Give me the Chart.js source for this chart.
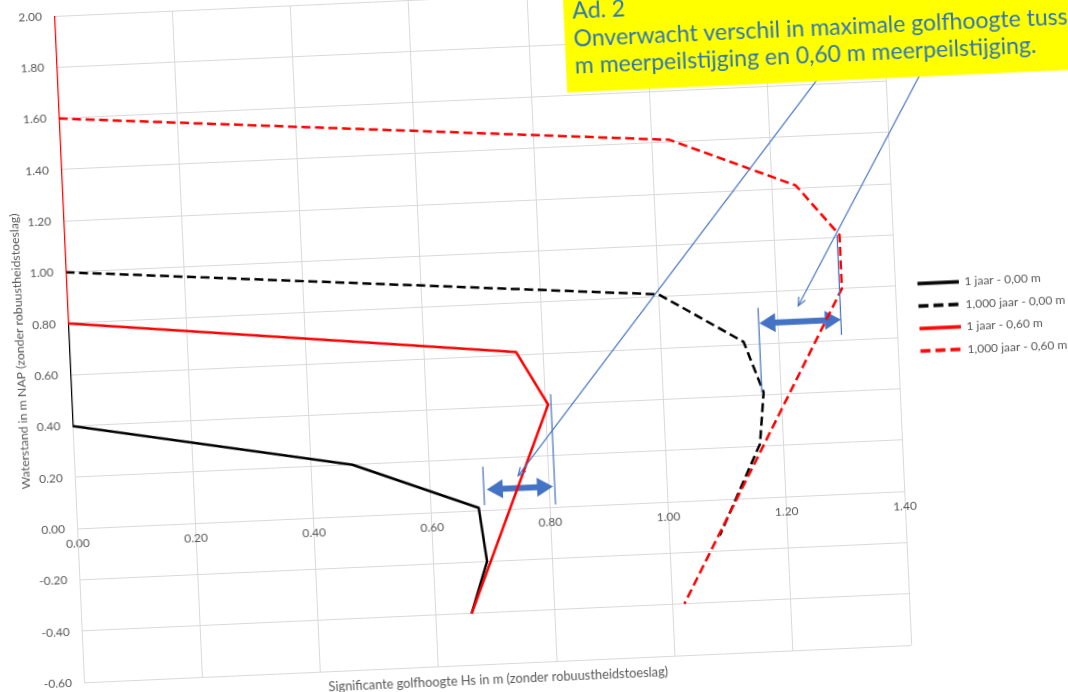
<!DOCTYPE html>
<html lang="nl">
<head>
<meta charset="utf-8">
<title>Golfhoogte bij waterstand</title>
<script src="https://cdn.jsdelivr.net/npm/chart.js@4.4.1/dist/chart.umd.min.js"></script>
<style>
  html, body { margin: 0; padding: 0; width: 1068px; height: 692px; overflow: hidden; background: #ffffff; }
  #grafiek { position: absolute; left: 0; top: 0; filter: blur(0.3px); }
</style>
</head>
<body>
<canvas id="grafiek" width="1120" height="800"></canvas>
<script>
// Significante golfhoogte Hs (m) per waterstand (m NAP), per reeks
const golfhoogte1jaar000    = [0.00, 0.00, 0.47, 0.68, 0.69, 0.66];
const waterstand1jaar000    = [0.80, 0.40, 0.20, 0.01, -0.20, -0.40];
const golfhoogte1000jaar000 = [0.00, 1.00, 1.14, 1.17, 1.16, 1.085];
const waterstand1000jaar000 = [1.00, 0.81, 0.61, 0.41, 0.21, -0.14];
const golfhoogte1jaar060    = [0.00, 0.00, 0.755, 0.805, 0.66];
const waterstand1jaar060    = [2.00, 0.80, 0.61, 0.40, -0.40];
const golfhoogte1000jaar060 = [0.00, 1.03, 1.24, 1.31, 1.31, 1.02];
const waterstand1000jaar060 = [1.60, 1.41, 1.21, 1.01, 0.80, -0.40];

const reeksNamen = ['1 jaar - 0,00 m', '1,000 jaar - 0,00 m', '1 jaar - 0,60 m', '1,000 jaar - 0,60 m'];

// Aslabels
const golfhoogteTicks = [0.00, 0.20, 0.40, 0.60, 0.80, 1.00, 1.20, 1.40];
const waterstandTicks = [-0.60, -0.40, -0.20, 0.00, 0.20, 0.40, 0.60, 0.80, 1.00, 1.20, 1.40, 1.60, 1.80, 2.00];

// Toelichting: verschil in maximale golfhoogte (Hs links, Hs rechts, waterstand)
const verschilPijlen = [[0.695, 0.807, 0.08], [1.168, 1.306, 0.68]];
// Hulplijnen bij de pijlen (Hs, waterstand onder, waterstand boven)
const hulplijnen = [[0.69, 0.02, 0.17], [0.81, 0.01, 0.44], [1.167, 0.41, 0.74], [1.306, 0.62, 1.01]];
// Verwijslijnen vanaf het tekstvak (Hs van, waterstand van, Hs naar, waterstand naar)
const verwijzingen = [[1.2955, 1.65, 0.749, 0.128], [1.466, 1.65, 1.235, 0.741]];
// Tekstvak (in askoordinaten) en de regels erin
const tekstvak = { links: 0.861, onder: 1.612, rechts: 2.3, boven: 2.26, tekstX: 0.876 };
const tekstRegelsY = [1.899, 1.791, 1.686];
const tekstRegels = ['Ad. 2', 'Onverwacht verschil in maximale golfhoogte tussen 0,00', 'm meerpeilstijging en 0,60 m meerpeilstijging.'];

const punten = (xs, ys) => xs.map((x, i) => ({ x: x, y: ys[i] }));

const ZWART = '#000000', ROOD = '#ff0000', BLAUW = '#4472c4', GRIJS = '#595959', RASTER = '#d9d9d9';
const STREEP = [9, 4.5];

// rode reeksen worden boven de zwarte getekend (lagere order = later getekend)
const reeksen = [
  { label: reeksNamen[0], data: punten(golfhoogte1jaar000, waterstand1jaar000), borderColor: ZWART, borderDash: [], order: 1 },
  { label: reeksNamen[1], data: punten(golfhoogte1000jaar000, waterstand1000jaar000), borderColor: ZWART, borderDash: STREEP, order: 1 },
  { label: reeksNamen[2], data: punten(golfhoogte1jaar060, waterstand1jaar060), borderColor: ROOD, borderDash: [], order: 0 },
  { label: reeksNamen[3], data: punten(golfhoogte1000jaar060, waterstand1000jaar060), borderColor: ROOD, borderDash: STREEP, order: 0 }
].map(r => Object.assign(r, {
  showLine: true, pointRadius: 0, borderWidth: 2.5, tension: 0,
  backgroundColor: r.borderColor, borderJoinStyle: 'round', borderCapStyle: 'butt'
}));

// Legendasymbool: een stukje lijn in de stijl van de reeks
function legendaSymbool(kleur, streep) {
  const c = document.createElement('canvas');
  c.width = 53; c.height = 6;
  const g = c.getContext('2d');
  g.strokeStyle = kleur; g.lineWidth = 3.4; g.setLineDash(streep.length ? [10, 5] : []);
  g.beginPath(); g.moveTo(12, 3); g.lineTo(53, 3); g.stroke();
  return c;
}
const symbolen = reeksen.map(r => legendaSymbool(r.borderColor, r.borderDash));

function dubbelePijl(ctx, x1, x2, y, kop, kopHalf, schachtHalf) {
  ctx.beginPath();
  ctx.moveTo(x1, y);
  ctx.lineTo(x1 + kop, y - kopHalf);
  ctx.lineTo(x1 + kop, y - schachtHalf);
  ctx.lineTo(x2 - kop, y - schachtHalf);
  ctx.lineTo(x2 - kop, y - kopHalf);
  ctx.lineTo(x2, y);
  ctx.lineTo(x2 - kop, y + kopHalf);
  ctx.lineTo(x2 - kop, y + schachtHalf);
  ctx.lineTo(x1 + kop, y + schachtHalf);
  ctx.lineTo(x1 + kop, y + kopHalf);
  ctx.closePath();
  ctx.fill();
}

const toelichting = {
  id: 'toelichting',
  beforeDatasetsDraw(chart) {
    const { ctx, scales: { x, y } } = chart;
    ctx.save();
    ctx.fillStyle = BLAUW;
    verschilPijlen.forEach(([a, b, w]) => {
      dubbelePijl(ctx, x.getPixelForValue(a), x.getPixelForValue(b), y.getPixelForValue(w), 16, 9.5, 3);
    });
    ctx.restore();
  },
  afterDraw(chart) {
    const { ctx, scales: { x, y } } = chart;
    ctx.save();
    ctx.strokeStyle = BLAUW;
    ctx.lineWidth = 1.2;
    hulplijnen.forEach(([h, w1, w2]) => {
      ctx.beginPath();
      ctx.moveTo(x.getPixelForValue(h), y.getPixelForValue(w1));
      ctx.lineTo(x.getPixelForValue(h), y.getPixelForValue(w2));
      ctx.stroke();
    });
    verwijzingen.forEach(([h1, w1, h2, w2]) => {
      const x1 = x.getPixelForValue(h1), y1 = y.getPixelForValue(w1);
      const x2 = x.getPixelForValue(h2), y2 = y.getPixelForValue(w2);
      ctx.beginPath(); ctx.moveTo(x1, y1); ctx.lineTo(x2, y2); ctx.stroke();
      const hoek = Math.atan2(y2 - y1, x2 - x1);
      const lengte = 9, spreiding = 0.42;
      ctx.beginPath();
      ctx.moveTo(x2 - lengte * Math.cos(hoek - spreiding), y2 - lengte * Math.sin(hoek - spreiding));
      ctx.lineTo(x2, y2);
      ctx.lineTo(x2 - lengte * Math.cos(hoek + spreiding), y2 - lengte * Math.sin(hoek + spreiding));
      ctx.stroke();
    });
    // geel tekstvak
    const bx1 = x.getPixelForValue(tekstvak.links), bx2 = x.getPixelForValue(tekstvak.rechts);
    const by1 = y.getPixelForValue(tekstvak.boven), by2 = y.getPixelForValue(tekstvak.onder);
    ctx.fillStyle = '#ffff00';
    ctx.fillRect(bx1, by1, bx2 - bx1, by2 - by1);
    ctx.fillStyle = '#2e75b6';
    ctx.font = '23px Lato';
    ctx.textBaseline = 'alphabetic';
    ctx.textAlign = 'left';
    tekstRegels.forEach((regel, i) => {
      ctx.fillText(regel, x.getPixelForValue(tekstvak.tekstX), y.getPixelForValue(tekstRegelsY[i]));
    });
    ctx.restore();
  }
};

Chart.defaults.font.family = 'Lato';
Chart.defaults.color = GRIJS;

const canvas = document.getElementById('grafiek');
const grafiek = new Chart(canvas, {
  type: 'scatter',
  data: { datasets: reeksen },
  plugins: [toelichting],
  options: {
    responsive: false,
    animation: false,
    events: [],
    layout: { padding: { left: 10, top: 70, right: 10, bottom: 40 } },
    scales: {
      x: {
        type: 'linear',
        position: { y: 0 },
        min: 0, max: 1.4,
        afterBuildTicks: s => { s.ticks = golfhoogteTicks.map(v => ({ value: v })); },
        grid: { color: RASTER, lineWidth: 1, drawTicks: false },
        border: { color: RASTER },
        ticks: { padding: 8, color: GRIJS, font: { size: 12 }, maxRotation: 0,
                 callback: v => Math.abs(v) < 1e-9 ? '0.00' : Number(v).toFixed(2) }
      },
      y: {
        type: 'linear',
        position: 'left',
        min: -0.6, max: 2.0,
        afterBuildTicks: s => { s.ticks = waterstandTicks.map(v => ({ value: v })); },
        afterFit: s => { s.width = 56; },
        grid: { color: RASTER, lineWidth: 1, drawTicks: false },
        border: { color: RASTER },
        ticks: { padding: 12, color: GRIJS, font: { size: 12 },
                 callback: v => Math.abs(v) < 1e-9 ? '0.00' : Number(v).toFixed(2) },
        title: { display: true, text: 'Waterstand in m NAP (zonder robuustheidstoeslag)',
                 color: GRIJS, font: { size: 12.3 }, padding: { top: 0, bottom: 0 } }
      }
    },
    plugins: {
      tooltip: { enabled: false },
      title: {
        display: true, position: 'bottom', fullSize: false,
        text: 'Significante golfhoogte Hs in m (zonder robuustheidstoeslag)',
        color: GRIJS, font: { size: 12.8, weight: 'normal' }, padding: { top: 8, bottom: 0 }
      },
      legend: {
        position: 'right', align: 'center', fullSize: false,
        title: { display: true, text: '', padding: 0, font: { size: 10.8 } },
        labels: {
          usePointStyle: true, pointStyleWidth: 53, padding: 10.5,
          color: GRIJS, font: { size: 12 },
          generateLabels(chart) {
            const items = Chart.defaults.plugins.legend.labels.generateLabels(chart);
            items.forEach(it => { it.pointStyle = symbolen[it.datasetIndex]; });
            return items;
          },
          sort: (a, b) => a.datasetIndex - b.datasetIndex
        }
      }
    }
  }
});

// Plotgebied op vaste maat brengen en het geheel iets gekanteld plaatsen
const PLOT_B = 828, PLOT_H = 667;
const pad = grafiek.options.layout.padding;
pad.right += grafiek.chartArea.width - PLOT_B;
pad.bottom += grafiek.chartArea.height - PLOT_H;
grafiek.update('none');
const ca = grafiek.chartArea;
canvas.style.left = (53.5 - ca.left) + 'px';
canvas.style.top = (16 - ca.top) + 'px';
canvas.style.transformOrigin = ca.left + 'px ' + ca.top + 'px';
canvas.style.transform = 'rotate(-2.58deg)';
</script>
</body>
</html>
